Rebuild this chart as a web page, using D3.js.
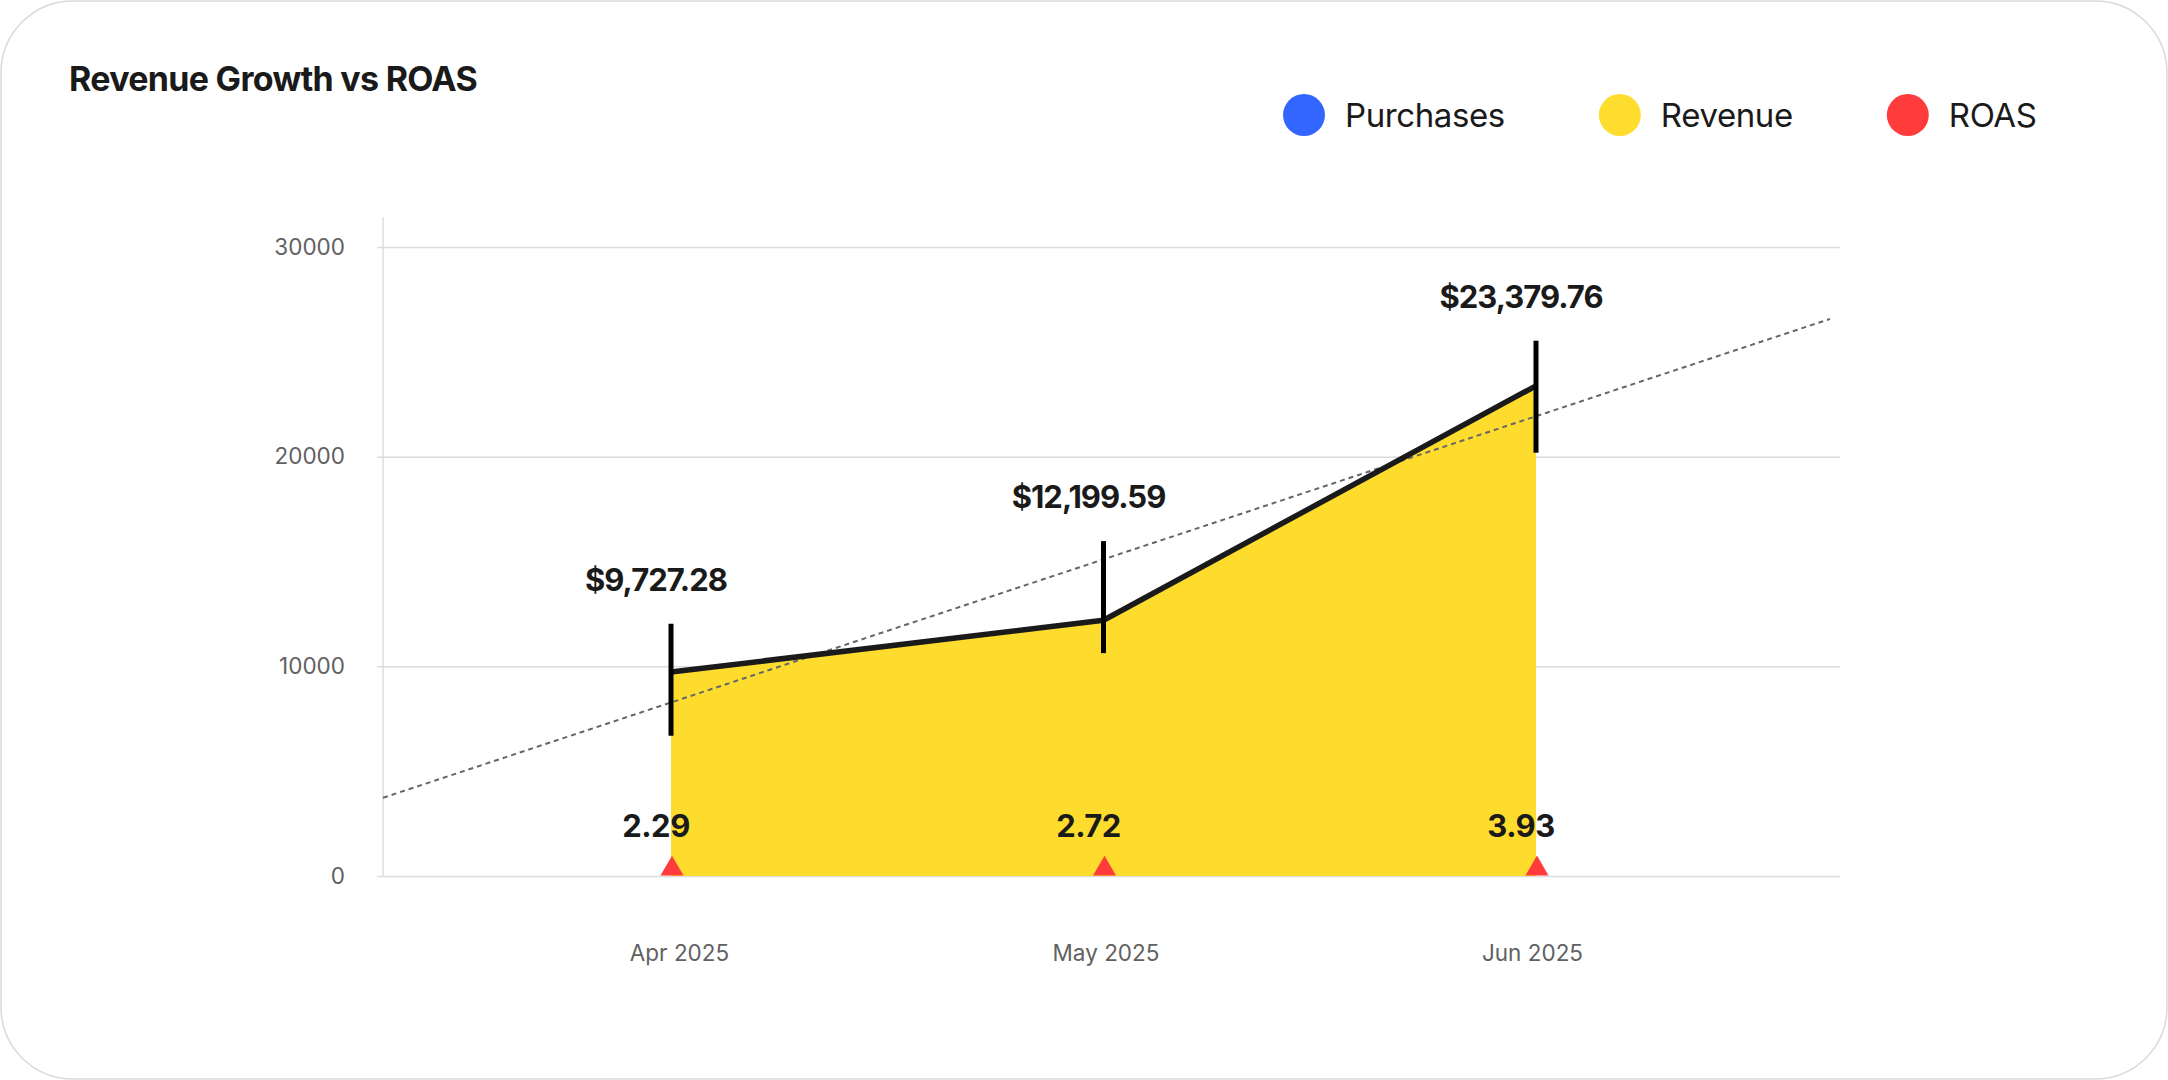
<!DOCTYPE html>
<html>
<head>
<meta charset="utf-8">
<script src="https://d3js.org/d3.v7.min.js"></script>
<style>
    html, body { margin: 0; padding: 0; background: #fff; }
    svg { display: block; font-family: Inter, "Noto Sans", sans-serif; }
    .grid line { stroke: #dcdcdc; stroke-width: 1.5; }
    .grid .domain { stroke: none; }
    .ylab .domain, .xlab .domain { stroke: none; }
    .ylab text, .xlab text { fill: #616161; font-size: 22.5px; font-family: Inter, "Noto Sans", sans-serif; }
</style>
</head>
<body>
<svg id="chart" width="2168" height="1080"></svg>
<script>
// data
const months = ["Apr 2025", "May 2025", "Jun 2025"];
const revenue = [9727.28, 12199.59, 23379.76];
const roas = [2.29, 2.72, 3.93];
// black vertical marks (centre, in revenue units)
const markCentres = [9360, 13300, 22860];
const yTicks = [0, 10000, 20000, 30000];
const legendNames = ["Purchases", "Revenue", "ROAS"];
const legendColors = ["#3366ff", "#ffdd2e", "#ff3b3b"];

const svg = d3.select("#chart");
const W = +svg.attr("width"), H = +svg.attr("height");

// card
svg.append("rect")
    .attr("x", 1).attr("y", 1).attr("width", W - 2).attr("height", H - 2)
    .attr("rx", 72).attr("ry", 72)
    .attr("fill", "#fff").attr("stroke", "#d9d9d9").attr("stroke-width", 1.5);

svg.append("text")
    .attr("x", 69).attr("y", 91)
    .attr("font-size", 34).attr("font-weight", 700)
    .attr("letter-spacing", "-0.7px")
    .attr("fill", "#1a1a1a")
    .text("Revenue Growth vs ROAS");

// legend
let lx = 1304;
const legend = svg.append("g");
legendNames.forEach((name, i) => {
    legend.append("circle").attr("cx", lx).attr("cy", 115).attr("r", 21)
        .attr("fill", legendColors[i]);
    const t = legend.append("text").attr("x", lx + 41).attr("y", 127)
        .attr("font-size", 33).attr("fill", "#1a1a1a")
        .attr("letter-spacing", "-0.4px")
        .text(name);
    lx = lx + 41 + t.node().getComputedTextLength() + 115;
});

const plot = { left: 383, right: 1840, top: 217, bottom: 876 };

const y = d3.scaleLinear().domain([0, 30000]).range([876, 247]);
const x = d3.scalePoint().domain(months).range([671, 1536]);
// the month labels sit a touch off the marks in the original
const xLab = d3.scalePoint().domain(months).range([679, 1532]);
const step = x.step();

// gridlines
svg.append("g").attr("class", "grid")
    .attr("transform", `translate(${plot.left - 6},0)`)
    .call(d3.axisRight(y).tickValues(yTicks).tickSize(plot.right - plot.left + 6).tickFormat(""));

// y axis line
svg.append("line")
    .attr("x1", plot.left).attr("x2", plot.left)
    .attr("y1", plot.top).attr("y2", plot.bottom)
    .attr("stroke", "#dcdcdc").attr("stroke-width", 1.5);

svg.append("g").attr("class", "ylab")
    .attr("transform", `translate(${plot.left},0)`)
    .call(d3.axisLeft(y).tickValues(yTicks).tickSize(0).tickPadding(38).tickFormat(d3.format("d")));

svg.append("g").attr("class", "xlab")
    .attr("transform", `translate(0,${plot.bottom})`)
    .call(d3.axisBottom(xLab).tickSize(0).tickPadding(69));

// revenue area + line
const data = months.map((m, i) => ({ m, rev: revenue[i], roas: roas[i], mark: markCentres[i] }));

svg.append("path").datum(data)
    .attr("fill", "#fddc2e")
    .attr("d", d3.area().x(d => x(d.m)).y0(y(0)).y1(d => y(d.rev)));

// trend line (least squares over month index), stretched across the plot
const idx = data.map((d, i) => i);
const mx = d3.mean(idx), my = d3.mean(revenue);
const slope = d3.sum(idx, i => (i - mx) * (revenue[i] - my)) / d3.sum(idx, i => (i - mx) ** 2);
const icpt = my - slope * mx;
const toIdx = px => (px - x(months[0])) / step;
const i0 = toIdx(plot.left), i1 = toIdx(plot.right - 10);
svg.append("line")
    .attr("x1", plot.left).attr("y1", y(icpt + slope * i0))
    .attr("x2", plot.right - 10).attr("y2", y(icpt + slope * i1))
    .attr("stroke", "#666").attr("stroke-width", 2)
    .attr("stroke-dasharray", "5,4");

svg.append("path").datum(data)
    .attr("fill", "none").attr("stroke", "#1a1a1a").attr("stroke-width", 5.5)
    .attr("stroke-linejoin", "round")
    .attr("d", d3.line().x(d => x(d.m)).y(d => y(d.rev)));

// black marks
svg.selectAll("line.mark").data(data).join("line")
    .attr("class", "mark")
    .attr("x1", d => x(d.m)).attr("x2", d => x(d.m))
    .attr("y1", d => y(d.mark) - 56).attr("y2", d => y(d.mark) + 56)
    .attr("stroke", "#000").attr("stroke-width", 5);

svg.selectAll("text.rev").data(data).join("text")
    .attr("class", "rev")
    .attr("x", d => x(d.m) - 15).attr("y", d => y(d.mark) - 89)
    .attr("text-anchor", "middle")
    .attr("font-size", 31).attr("font-weight", 700).attr("letter-spacing", "-1px")
    .attr("fill", "#1a1a1a")
    .text(d => "$" + d3.format(",.2f")(d.rev));

// ROAS triangles on the same axis (so they sit on the baseline)
svg.selectAll("path.roas").data(data).join("path")
    .attr("class", "roas")
    .attr("transform", d => `translate(${x(d.m) + 1},${y(d.roas) - 7})`)
    .attr("d", d3.symbol(d3.symbolTriangle, 230))
    .attr("fill", "#ff3b3b");

svg.selectAll("text.roasv").data(data).join("text")
    .attr("class", "roasv")
    .attr("x", d => x(d.m) - 15).attr("y", d => y(d.roas) - 39)
    .attr("text-anchor", "middle")
    .attr("font-size", 31).attr("font-weight", 700).attr("letter-spacing", "-0.5px")
    .attr("fill", "#1a1a1a")
    .text(d => d3.format(".2f")(d.roas));
</script>
</body>
</html>
